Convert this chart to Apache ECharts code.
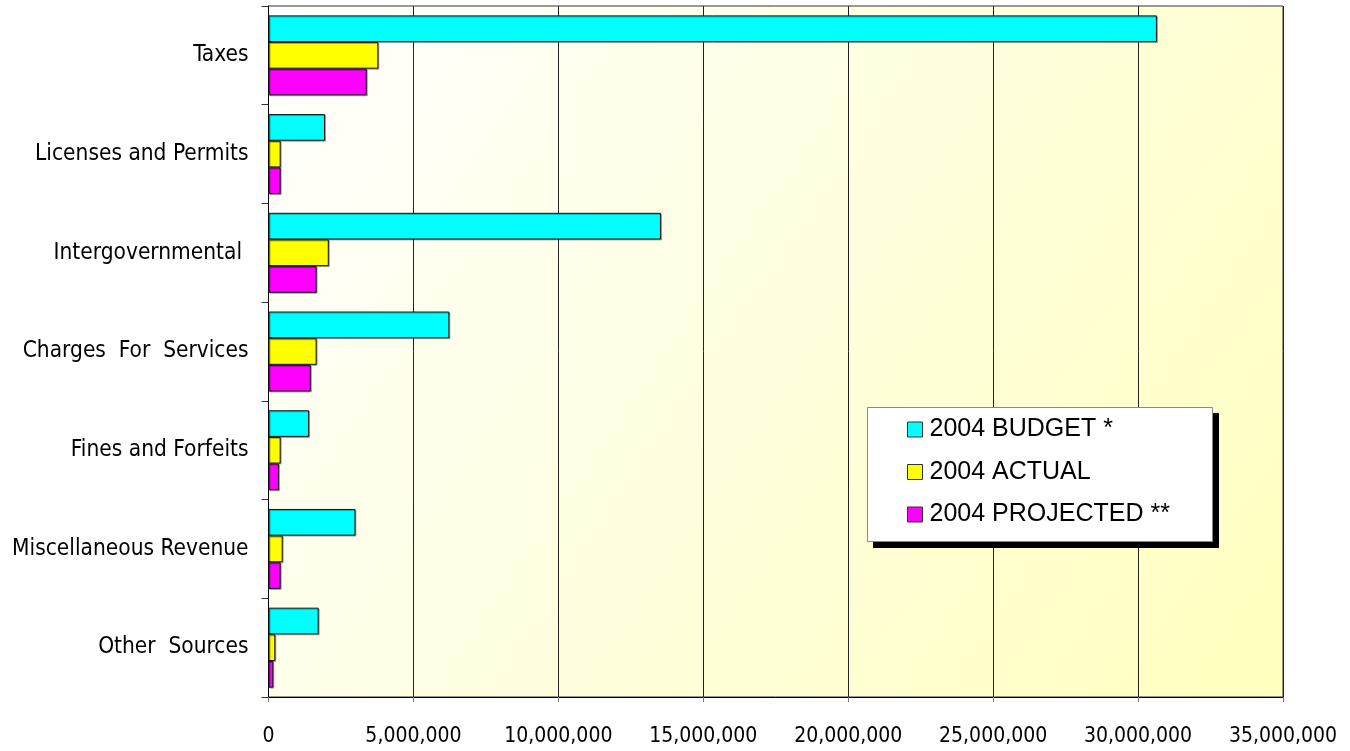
<!DOCTYPE html>
<html>
<head>
<meta charset="utf-8">
<script src="https://cdn.jsdelivr.net/npm/echarts@6/dist/echarts.min.js"></script>
<style>
html,body{margin:0;padding:0;background:#fff;}
#chart{width:1350px;height:751px;}
</style>
</head>
<body>
<div id="chart"></div>
<script>
const categories = ['Taxes', 'Licenses and Permits', 'Intergovernmental ', 'Charges  For  Services', 'Fines and Forfeits', 'Miscellaneous Revenue', 'Other  Sources'];
const budget2004 = [30650000, 1950000, 13540000, 6240000, 1400000, 3000000, 1730000];
const actual2004 = [3790000, 420000, 2080000, 1660000, 420000, 490000, 235000];
const projected2004 = [3390000, 420000, 1660000, 1460000, 360000, 420000, 166000];
const seriesNames = ['2004 BUDGET *', '2004 ACTUAL', '2004 PROJECTED **'];
const xTicks = [0, 5000000, 10000000, 15000000, 20000000, 25000000, 30000000, 35000000];

const narrow = "'Liberation Sans Narrow', 'Arial Narrow', 'DejaVu Sans Condensed', sans-serif";
const sans = "'Liberation Sans', Arial, sans-serif";

const chart = echarts.init(document.getElementById('chart'), null, {renderer: 'canvas'});

function barSeries(name, data, color) {
  return {
    name: name,
    type: 'bar',
    data: data,
    barGap: '0%',
    barCategoryGap: '19%',
    itemStyle: {
      color: color,
      borderColor: '#111',
      borderWidth: 1,
      shadowColor: 'rgba(0,0,0,0.3)',
      shadowOffsetX: 1,
      shadowOffsetY: 1,
      shadowBlur: 0
    },
    emphasis: {disabled: true},
    z: 2
  };
}

const option = {
  animation: false,
  backgroundColor: '#ffffff',
  grid: {
    left: 268.5,
    right: 67,
    top: 6,
    bottom: 54,
    outerBoundsMode: 'none',
    containLabel: false,
    show: true,
    borderColor: '#333',
    borderWidth: 1,
    backgroundColor: {
      type: 'linear', x: 0, y: 0, x2: 1, y2: 1,
      colorStops: [
        {offset: 0, color: '#ffffff'},
        {offset: 1, color: '#ffffbe'}
      ]
    }
  },
  xAxis: {
    type: 'value',
    min: xTicks[0],
    max: xTicks[xTicks.length - 1],
    interval: xTicks[1] - xTicks[0],
    axisLine: {show: true, lineStyle: {color: '#000', width: 1}},
    axisTick: {show: true, length: 5, lineStyle: {color: '#777'}},
    splitLine: {show: true, lineStyle: {color: '#222', width: 1}},
    axisLabel: {
      color: '#000',
      fontFamily: narrow,
      fontSize: 21,
      margin: 29,
      hideOverlap: false,
      formatter: function (v) { return v.toLocaleString('en-US'); }
    }
  },
  yAxis: {
    type: 'category',
    data: categories,
    inverse: true,
    axisLine: {show: true, lineStyle: {color: '#000', width: 1}},
    axisTick: {show: true, length: 7, lineStyle: {color: '#333'}},
    splitLine: {show: false},
    axisLabel: {
      color: '#000',
      fontFamily: narrow,
      fontSize: 22.5,
      margin: 20
    }
  },
  legend: {
    orient: 'vertical',
    left: 907,
    top: 417,
    padding: 0,
    itemWidth: 15,
    itemHeight: 15,
    itemGap: 17.5,
    icon: 'rect',
    itemStyle: {borderColor: '#333', borderWidth: 1, shadowBlur: 0, shadowOffsetX: 0, shadowOffsetY: 0},
    textStyle: {color: '#000', fontFamily: sans, fontSize: 25, padding: [0, 0, 0, 2]},
    selectedMode: false,
    z: 10,
    data: seriesNames
  },
  graphic: [
    {type: 'rect', z: 8, shape: {x: 873, y: 413, width: 346, height: 135}, style: {fill: '#000'}},
    {type: 'rect', z: 9, shape: {x: 867.5, y: 407.5, width: 345, height: 134}, style: {fill: '#fff', stroke: '#888', lineWidth: 1}}
  ],
  series: [
    barSeries(seriesNames[0], budget2004, '#00ffff'),
    barSeries(seriesNames[1], actual2004, '#ffff00'),
    barSeries(seriesNames[2], projected2004, '#ff00ff')
  ]
};
chart.setOption(option);
</script>
</body>
</html>
